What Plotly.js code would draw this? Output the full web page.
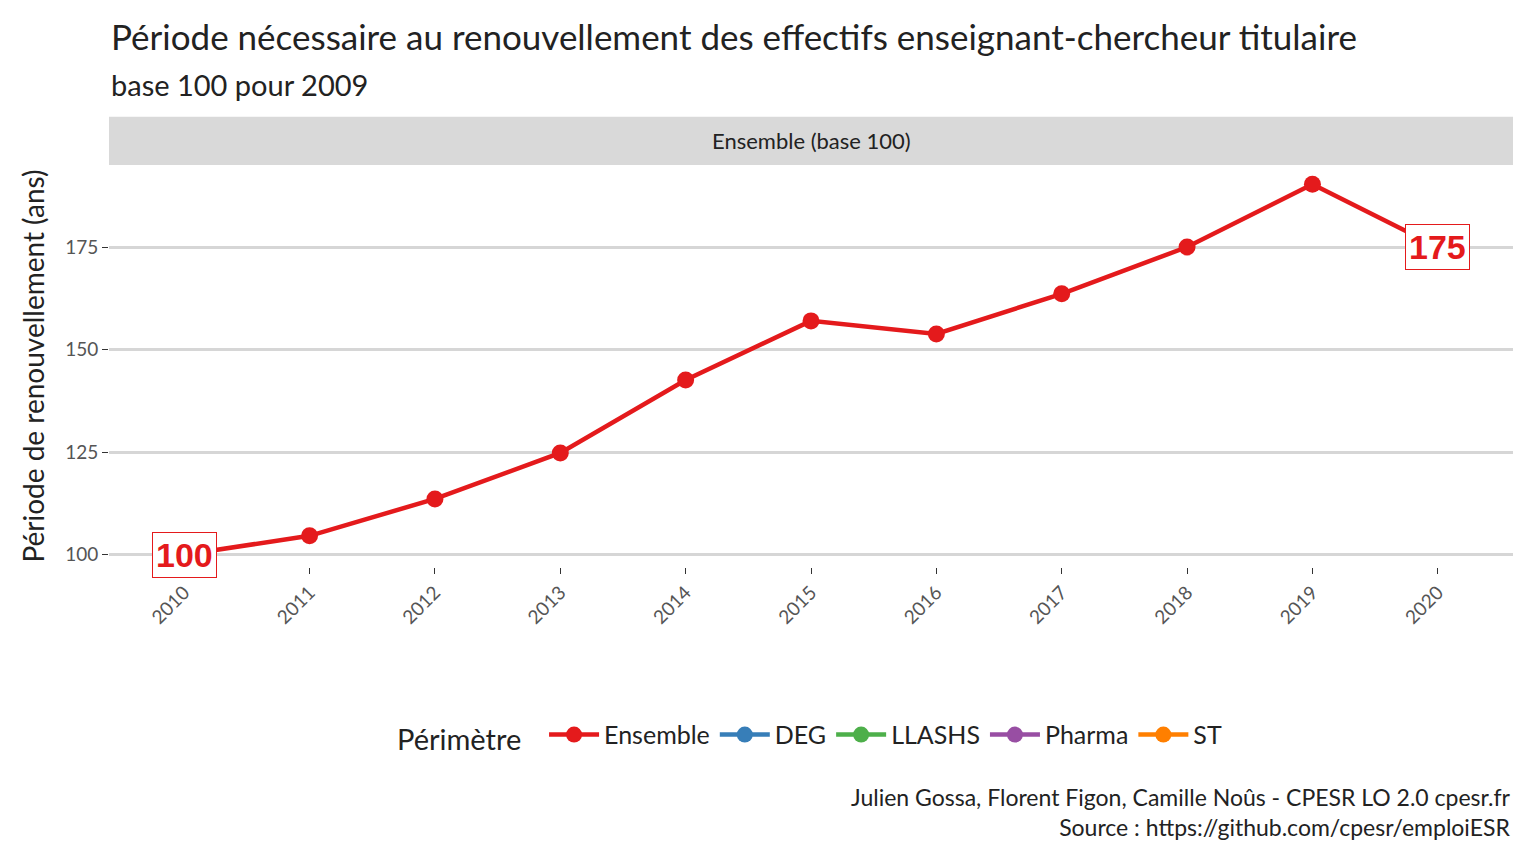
<!DOCTYPE html>
<html lang="en">
<head>
  <meta charset="UTF-8">
  <title>Période de renouvellement</title>
  <script src="https://cdn.plot.ly/plotly-3.0.1.min.js" charset="utf-8"></script>
  <style>body{margin:0;background:#fff}</style>
</head>
<body>
  <div id="chart" style="width:1536px;height:864px;"></div>
  <script>
    // values
    const years = [2010, 2011, 2012, 2013, 2014, 2015, 2016, 2017, 2018, 2019, 2020];
    const ensemble = [100, 104.6, 113.6, 124.8, 142.6, 157.0, 153.8, 163.6, 175.0, 190.3, 175.0];
    const perimetres = ["Ensemble", "DEG", "LLASHS", "Pharma", "ST"];
    const colors = ["#E41A1C", "#377EB8", "#4DAF4A", "#984EA3", "#FF7F00"];

    const font = "Lato, 'Open Sans', sans-serif";

    var data = perimetres.map(function (p, i) {
      return {
        x: i === 0 ? years : [null],
        y: i === 0 ? ensemble : [null],
        name: p,
        type: 'scatter',
        mode: 'lines+markers',
        line: {color: colors[i], width: 4.5},
        marker: {color: colors[i], size: 17},
        hoverinfo: 'x+y'
      };
    });

    var first = 0, last = years.length - 1;
    var labels = [first, last].map(function (k) {
      return {
        x: years[k], y: ensemble[k], xref: 'x', yref: 'y',
        text: '<b>' + Math.round(ensemble[k]) + '</b>',
        showarrow: false,
        font: {family: 'Liberation Sans, Arial, sans-serif', size: 34, color: colors[0]},
        bgcolor: '#fff', bordercolor: colors[0], borderwidth: 1, borderpad: 3
      };
    });

    var layout = {
      width: 1536, height: 864,
      margin: {l: 109, r: 23, t: 165, b: 297},
      paper_bgcolor: '#fff', plot_bgcolor: '#fff',
      font: {family: font, color: '#222'},
      showlegend: true,
      legend: {
        orientation: 'h', x: 0.5, xanchor: 'center', y: -0.42, yanchor: 'middle',
        title: {text: 'Périmètre  ', font: {size: 29}}, font: {size: 25},
        itemwidth: 50, entrywidth: 0, tracegroupgap: 0
      },
      xaxis: {
        range: [2009.4, 2020.6], tickvals: years, tickangle: -45,
        showgrid: false, zeroline: false, ticks: 'outside', ticklen: 6, tickcolor: '#333',
        tickfont: {size: 19, color: '#555'}
      },
      yaxis: {
        range: [97, 195], tickvals: [100, 125, 150, 175],
        showgrid: true, gridcolor: '#d6d6d6', gridwidth: 2.5, zeroline: false,
        ticks: 'outside', ticklen: 6, tickcolor: '#333',
        tickfont: {size: 19, color: '#555'},
        title: {text: 'Période de renouvellement (ans)', font: {size: 28}, standoff: 12}
      },
      shapes: [{
        type: 'rect', xref: 'paper', yref: 'paper', x0: 0, x1: 1, y0: 1, y1: 1.12,
        fillcolor: '#d9d9d9', line: {width: 0}
      }],
      annotations: labels.concat([
        {xref: 'paper', yref: 'paper', x: 0.5, y: 1.06, yanchor: 'middle', showarrow: false,
         text: 'Ensemble (base 100)', font: {size: 22, color: '#222'}},
        {xref: 'paper', yref: 'paper', x: 0, y: 1.32, xanchor: 'left', yanchor: 'middle', showarrow: false,
         text: 'Période nécessaire au renouvellement des effectifs enseignant-chercheur titulaire', font: {size: 35}},
        {xref: 'paper', yref: 'paper', x: 0, y: 1.2, xanchor: 'left', yanchor: 'middle', showarrow: false,
         text: 'base 100 pour 2009', font: {size: 29}},
        {xref: 'paper', yref: 'paper', x: 1, y: -0.61, xanchor: 'right', yanchor: 'middle', showarrow: false, align: 'right',
         text: 'Julien Gossa, Florent Figon, Camille Noûs - CPESR LO 2.0 cpesr.fr<br>Source : https://github.com/cpesr/emploiESR',
         font: {size: 23}}
      ])
    };

    Plotly.newPlot('chart', data, layout, {displayModeBar: false});
  </script>
</body>
</html>
